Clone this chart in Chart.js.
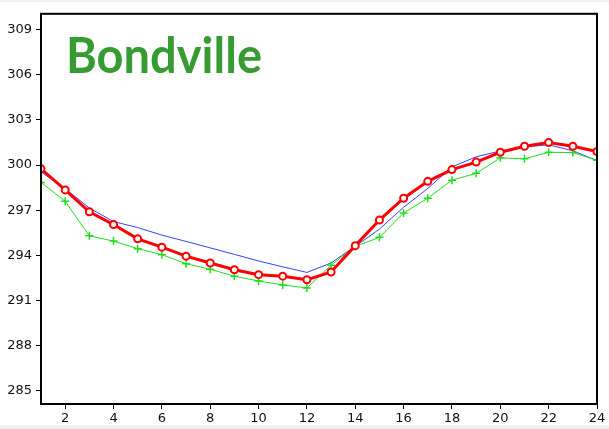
<!DOCTYPE html>
<html>
<head>
<meta charset="utf-8">
<script src="https://cdn.jsdelivr.net/npm/chart.js@4/dist/chart.umd.min.js"></script>
<style>
  html, body { margin: 0; padding: 0; background: #f0f0f0; width: 609px; height: 429px; overflow: hidden; }
  #wrap { position: absolute; left: 0; top: 2px; width: 609px; height: 423px; background: #ffffff; }
</style>
</head>
<body>
<div id="wrap"><canvas id="c" width="609" height="423"></canvas></div>
<script>
const hours = [1,2,3,4,5,6,7,8,9,10,11,12,13,14,15,16,17,18,19,20,21,22,23,24];
const redSeries = [299.75,298.35,296.9,296.05,295.1,294.55,293.95,293.5,293.05,292.72,292.62,292.38,292.9,294.65,296.35,297.8,298.92,299.7,300.2,300.85,301.25,301.5,301.25,300.9];
const greenSeries = [298.85,297.6,295.3,294.95,294.45,294.05,293.45,293.08,292.62,292.3,292.04,291.84,293.35,294.6,295.2,296.82,297.8,299.0,299.45,300.48,300.42,300.85,300.83,300.32];
const blueSeries = [299.55,298.43,297.15,296.25,295.85,295.35,294.93,294.5,294.07,293.63,293.24,292.87,293.5,294.6,295.75,297.2,298.45,299.88,300.55,300.94,301.2,301.35,300.95,300.3];
const xTicks = [2,4,6,8,10,12,14,16,18,20,22,24];
const yTicks = [285,288,291,294,297,300,303,306,309];
const titleText = "Bondville";

const pts = arr => arr.map((v,i) => ({x: hours[i], y: v}));

const framePlugin = {
  id: 'frame',
  afterDatasetsDraw(chart) {
    const {ctx, chartArea: a} = chart;
    ctx.save();
    ctx.strokeStyle = '#000';
    ctx.lineWidth = 2;
    ctx.strokeRect(a.left, a.top, a.right - a.left, a.bottom - a.top);
    ctx.restore();
  },
  beforeDatasetsDraw(chart) {
    const {ctx, chartArea: a} = chart;
    ctx.save();
    ctx.font = 'bold 50px Lato, "DejaVu Sans", sans-serif';
    ctx.fillStyle = '#379b34';
    ctx.textBaseline = 'alphabetic';
    const w = ctx.measureText(titleText).width;
    const targetW = 196;
    ctx.translate(a.left + 25, 71);
    ctx.scale(targetW / w, 1);
    ctx.fillText(titleText, 0, 0);
    ctx.restore();
  }
};

const tickFont = { family: '"DejaVu Sans", sans-serif', size: 13 };

new Chart(document.getElementById('c'), {
  type: 'line',
  data: {
    datasets: [
      {
        label: 'red',
        data: pts(redSeries),
        borderColor: '#ff0000',
        borderWidth: 3,
        pointStyle: 'circle',
        pointRadius: 3.5,
        pointBorderWidth: 2,
        pointBorderColor: '#ff0000',
        pointBackgroundColor: '#ffffff',
        tension: 0
      },
      {
        label: 'green',
        data: pts(greenSeries),
        borderColor: '#22dd22',
        borderWidth: 1,
        pointStyle: 'cross',
        pointRadius: 4,
        pointBorderWidth: 1.5,
        pointBorderColor: '#22dd22',
        tension: 0
      },
      {
        label: 'blue',
        data: pts(blueSeries),
        borderColor: '#3344ff',
        borderWidth: 1,
        pointRadius: 0,
        tension: 0
      }
    ]
  },
  options: {
    responsive: false,
    animation: false,
    layout: { padding: { top: 6, right: 12, left: 0, bottom: 0 } },
    plugins: { legend: { display: false }, tooltip: { enabled: false }, title: { display: false } },
    scales: {
      x: {
        type: 'linear',
        min: 1, max: 24,
        afterBuildTicks: s => { s.ticks = xTicks.map(v => ({value: v})); },
        afterFit: s => { s.height = 21; },
        grid: { drawOnChartArea: false, drawTicks: true, tickLength: 5, color: '#000', lineWidth: 1 },
        border: { display: false },
        ticks: { font: tickFont, color: '#111', padding: 2, autoSkip: false, maxRotation: 0 }
      },
      y: {
        type: 'linear',
        min: 284.13, max: 310.05,
        afterBuildTicks: s => { s.ticks = yTicks.map(v => ({value: v})); },
        afterFit: s => { s.width = 41; },
        grid: { drawOnChartArea: false, drawTicks: true, tickLength: 5, color: '#000', lineWidth: 1 },
        border: { display: false },
        ticks: { font: tickFont, color: '#111', padding: 4, autoSkip: false }
      }
    }
  },
  plugins: [framePlugin]
});
</script>
</body>
</html>
